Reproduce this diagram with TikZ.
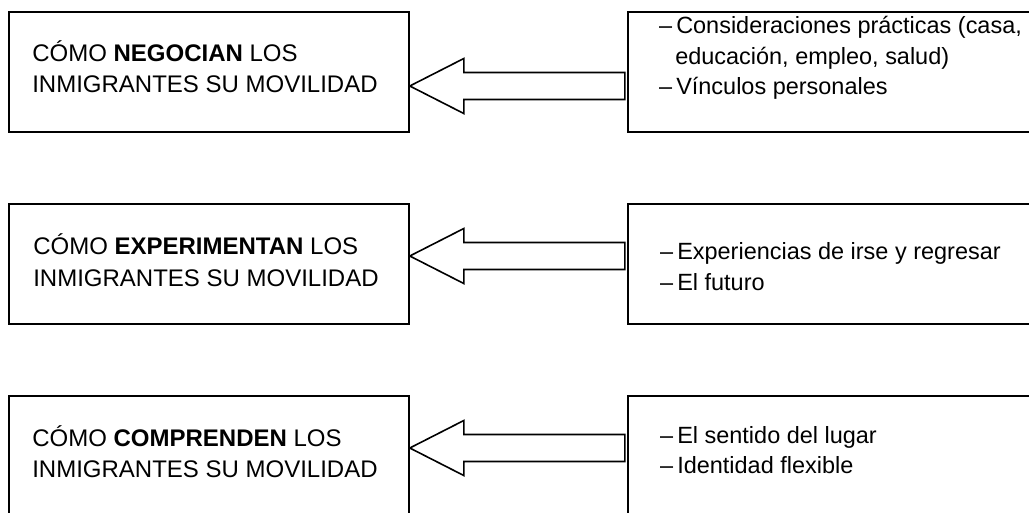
\documentclass[tikz,border=0pt]{standalone}
\usepackage{fontspec}
\setmainfont{Liberation Sans}
\usepackage{tikz}

\begin{document}
\begin{tikzpicture}
	[x=0.75pt, y=-0.75pt,
	box/.style={draw, line width=1.2pt, minimum width=300pt, minimum height=90pt, inner sep=0pt},
	srcbox/.style={box, minimum width=345pt},
	head/.style={anchor=base west, inner sep=0pt, font=\fontsize{18}{22}\selectfont},
	item/.style={anchor=base west, inner sep=0pt, font=\fontsize{17.6}{21}\selectfont},
	bigarrow/.style={draw, line width=1.2pt, line join=miter}]
	\useasboundingbox (0,0) rectangle (1029,512);
	% negocian
	\node[box] (negbox) at (209,72) {};
	\node[srcbox] (negsrc) at (858,72) {};
	\node[head] (neg1) at (32,61) {CÓMO \textbf{NEGOCIAN} LOS};
	\node[head] (neg2) at (32,92) {INMIGRANTES SU MOVILIDAD};
	\node[item] (negitem1) at (676,33) {\llap{–\kern3pt}Consideraciones prácticas (casa,};
	\node[item] (negitem2) at (675,64) {educación, empleo, salud)};
	\node[item] (negitem3) at (676,94) {\llap{–\kern3pt}Vínculos personales};
	\draw[bigarrow] ([yshift=-10.5pt]negbox.east) -- ++(54,-27.5) -- ++(0,14) -- ++(161,0)
		-- ++(0,27) -- ++(-161,0) -- ++(0,14) -- cycle;
	% experimentan
	\node[box] (expbox) at (209,264) {};
	\node[srcbox] (expsrc) at (858,264) {};
	\node[head] (exp1) at (33,254) {CÓMO \textbf{EXPERIMENTAN} LOS};
	\node[head] (exp2) at (33,286) {INMIGRANTES SU MOVILIDAD};
	\node[item] (expitem1) at (677,259) {\llap{–\kern3pt}Experiencias de irse y regresar};
	\node[item] (expitem2) at (677,290) {\llap{–\kern3pt}El futuro};
	\draw[bigarrow] ([yshift=6pt]expbox.east) -- ++(54,-27.5) -- ++(0,14) -- ++(161,0)
		-- ++(0,27) -- ++(-161,0) -- ++(0,14) -- cycle;
	% comprenden
	\node[box] (combox) at (209,456) {};
	\node[srcbox] (comsrc) at (858,456) {};
	\node[head] (com1) at (32,446) {CÓMO \textbf{COMPRENDEN} LOS};
	\node[head] (com2) at (32,477) {INMIGRANTES SU MOVILIDAD};
	\node[item] (comitem1) at (677,443) {\llap{–\kern3pt}El sentido del lugar};
	\node[item] (comitem2) at (677,473) {\llap{–\kern3pt}Identidad flexible};
	\draw[bigarrow] ([yshift=6pt]combox.east) -- ++(54,-27.5) -- ++(0,14) -- ++(161,0)
		-- ++(0,27) -- ++(-161,0) -- ++(0,14) -- cycle;
\end{tikzpicture}
\end{document}
